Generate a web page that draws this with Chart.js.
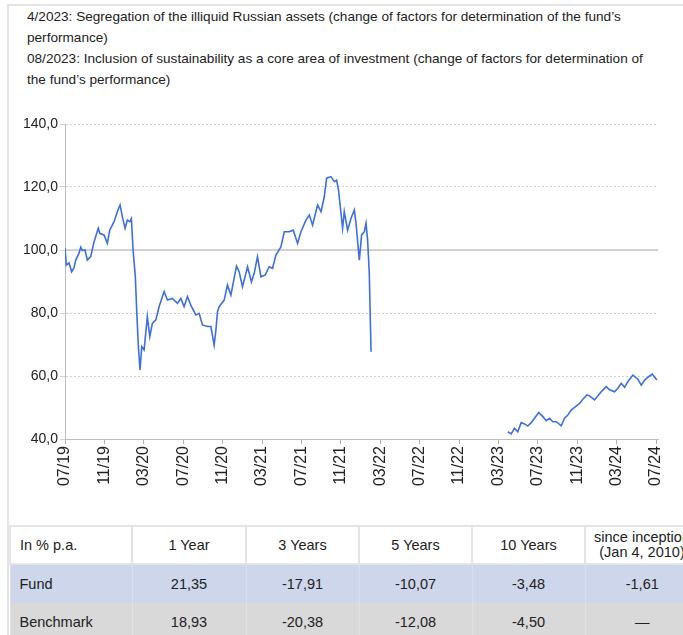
<!DOCTYPE html>
<html lang="en">
<head>
    <meta charset="UTF-8">
    <title>Fund Performance</title>
    <script src="https://cdn.jsdelivr.net/npm/chart.js"></script>
    <style>
        html, body {
            margin: 0;
            padding: 0;
            background: #fff;
            overflow: hidden;
            width: 683px;
            height: 635px;
            font-family: "Liberation Sans", Arial, sans-serif;
            color: #222;
        }
        .frame {
            position: absolute;
            left: 7px;
            top: 4px;
            width: 700px;
            height: 640px;
            border-left: 2px solid #e4e4e4;
            border-top: 2px solid #e4e4e4;
        }
        .notes {
            position: absolute;
            left: 27px;
            top: 6px;
            font-size: 13.6px;
            line-height: 21px;
            white-space: nowrap;
        }
        .chart-box {
            position: absolute;
            left: 9px;
            top: 100px;
            width: 674px;
            height: 420px;
        }
        table.perf {
            position: absolute;
            left: 9px;
            top: 525px;
            width: 689px;
            border-collapse: collapse;
            font-size: 14.5px;
            table-layout: fixed;
        }
        table.perf td {
            text-align: center;
            padding: 0;
            white-space: nowrap;
        }
        table.perf td:first-child {
            text-align: left;
            padding-left: 9px;
        }
        table.perf tr.head td {
            height: 36px;
            background: #fff;
            border: 2px solid #e4e4e4;
            line-height: 15px;
        }
        table.perf tr.fund td {
            height: 38px;
            background: #cdd6ea;
            border-left: 1px solid #d9def0;
        }
        table.perf tr.bench td {
            height: 38px;
            background: #d9d9d9;
            border-left: 1px solid #e2e2e2;
        }
    </style>
</head>
<body>
    <div class="frame"></div>
    <div class="notes">
        4/2023: Segregation of the illiquid Russian assets (change of factors for determination of the fund’s<br>
        performance)<br>
        08/2023: Inclusion of sustainability as a core area of investment (change of factors for determination of<br>
        the fund’s performance)
    </div>
    <div class="chart-box"><canvas id="perfChart"></canvas></div>
    <table class="perf" id="perfTable"></table>

<script>
    // months since 07/2019
    const segAMonths = [0, 0.13, 0.41, 0.68, 0.91, 1.09, 1.42, 1.60, 1.76, 2.03, 2.27, 2.61, 2.95, 3.38, 3.53, 3.96,
        4.30, 4.54, 4.98, 5.32, 5.59, 5.82, 6.10, 6.33, 6.58, 6.74, 6.91, 7.04, 7.14, 7.29, 7.45, 7.62, 7.79, 8.03,
        8.36, 8.61, 8.87, 9.22, 9.55, 10.06, 10.40, 10.90, 11.41, 11.76, 12.09, 12.43, 12.77, 13.28, 13.62, 13.95,
        14.46, 14.81, 15.14, 15.32, 15.48, 15.65, 16.16, 16.49, 16.84, 17.00, 17.41, 17.68, 18.02, 18.53, 18.93,
        19.21, 19.54, 19.89, 20.33, 20.73, 21.07, 21.41, 21.92, 22.26, 22.76, 23.17, 23.61, 23.95, 24.46, 24.80,
        25.13, 25.64, 25.99, 26.32, 26.56, 27.00, 27.34, 27.57, 27.77, 28.02, 28.18, 28.35, 28.69, 29.03, 29.37,
        29.54, 29.88, 30.11, 30.39, 30.56, 30.72, 30.89, 31.07];
    const segAValues = [100.6, 95.2, 95.9, 93.1, 94.3, 96.8, 99.0, 100.9, 99.8, 100.0, 96.8, 97.9, 102.6, 106.9, 105.3, 104.8,
        102.1, 106.3, 109.0, 112.2, 114.3, 110.6, 106.9, 109.5, 109.0, 110.0, 100.0, 95.2, 91.5, 79.9, 69.3, 61.9, 69.3, 68.3,
        78.8, 72.5, 76.7, 77.8, 82.0, 86.8, 84.1, 84.6, 83.1, 84.6, 82.0, 85.2, 82.5, 79.4, 79.9, 76.2,
        75.7, 75.7, 69.8, 74.6, 80.4, 82.0, 84.1, 88.9, 85.7, 88.3, 94.9, 93.1, 88.3, 94.7, 89.9,
        92.6, 97.9, 91.5, 92.1, 94.7, 94.2, 98.4, 101.0, 105.8, 105.8, 106.3, 102.1, 105.8, 109.5, 111.1,
        107.9, 114.3, 112.2, 116.9, 122.8, 123.3, 121.7, 122.2, 119.0, 111.6, 106.9, 112.2, 106.3, 110.0, 112.7,
        108.5, 96.8, 104.8, 105.8, 108.5, 103.2, 92.6, 67.7];

    const segBMonths = [44.95, 45.30, 45.63, 45.97, 46.31, 46.65, 46.98, 47.33, 47.66, 48.10, 48.51, 48.85, 49.19,
        49.52, 49.87, 50.38, 50.71, 51.05, 51.39, 51.83, 52.24, 52.57, 52.98, 53.25, 53.76, 54.10, 54.44, 54.95,
        55.28, 55.79, 56.13, 56.47, 56.81, 57.14, 57.65, 58.16, 58.50, 58.84, 59.35, 59.62, 59.86, 60.09];
    const segBValues = [42.3, 41.6, 43.4, 42.3, 45.2, 44.8, 44.1, 45.2, 46.6, 48.4, 47.1, 45.8, 46.6,
        45.5, 45.5, 44.2, 46.6, 47.6, 49.2, 50.3, 51.3, 52.6, 54.0, 53.7, 52.4, 53.7, 55.0, 56.6,
        55.6, 55.0, 56.1, 57.7, 56.4, 58.2, 60.3, 59.0, 57.1, 58.7, 60.0, 60.6, 59.6, 58.7];

    const tickMonths = [0, 4, 8, 12, 16, 20, 24, 28, 32, 36, 40, 44, 48, 52, 56, 60];
    const tickLabels = ['07/19', '11/19', '03/20', '07/20', '11/20', '03/21', '07/21', '11/21',
        '03/22', '07/22', '11/22', '03/23', '07/23', '11/23', '03/24', '07/24'];

    const periods = ['1 Year', '3 Years', '5 Years', '10 Years', 'since inception<br>(Jan 4, 2010)'];
    const fundReturns = ['21,35', '-17,91', '-10,07', '-3,48', '-1,61'];
    const benchReturns = ['18,93', '-20,38', '-12,08', '-4,50', '—'];

    // one dataset, gap between the two segments
    const points = segAMonths.map((m, i) => ({ x: m, y: segAValues[i] }))
        .concat([{ x: 38, y: null }])
        .concat(segBMonths.map((m, i) => ({ x: m, y: segBValues[i] })));

    // solid reference line at 100
    const baseLine = {
        id: 'baseLine',
        beforeDatasetsDraw(chart) {
            const y = chart.scales.y.getPixelForValue(100);
            const { left, right } = chart.chartArea;
            const ctx = chart.ctx;
            ctx.save();
            ctx.strokeStyle = '#c6c6c6';
            ctx.lineWidth = 1.5;
            ctx.beginPath();
            ctx.moveTo(left, y);
            ctx.lineTo(right, y);
            ctx.stroke();
            ctx.restore();
        }
    };

    new Chart(document.getElementById('perfChart'), {
        type: 'line',
        data: {
            datasets: [{
                data: points,
                borderColor: '#3d6fe0',
                borderWidth: 1.6,
                pointRadius: 0,
                tension: 0,
                spanGaps: false
            }]
        },
        options: {
            responsive: true,
            maintainAspectRatio: false,
            animation: false,
            layout: { padding: { top: 24, right: 25, left: 0, bottom: 0 } },
            plugins: { legend: { display: false }, tooltip: { enabled: false } },
            scales: {
                x: {
                    type: 'linear',
                    min: 0,
                    max: 60.2,
                    afterBuildTicks: scale => { scale.ticks = tickMonths.map(v => ({ value: v })); },
                    afterFit: scale => { scale.height = 81; },
                    grid: { drawOnChartArea: false, drawTicks: true, tickLength: 5, color: '#b0b0b0' },
                    border: { color: '#bdbdbd', width: 1 },
                    ticks: {
                        minRotation: 90,
                        maxRotation: 90,
                        autoSkip: false,
                        padding: 2,
                        color: '#222',
                        font: { family: 'Liberation Sans', size: 16 },
                        callback: v => tickLabels[tickMonths.indexOf(v)]
                    }
                },
                y: {
                    min: 40,
                    max: 140,
                    afterFit: scale => { scale.width = 56; },
                    grid: { color: '#d0d0d0', lineWidth: 1, tickLength: 5 },
                    border: { color: '#bdbdbd', width: 1, dash: [2, 2] },
                    ticks: {
                        stepSize: 20,
                        padding: 2,
                        color: '#222',
                        font: { family: 'Liberation Sans', size: 14 },
                        callback: v => v.toFixed(1).replace('.', ',')
                    }
                }
            }
        },
        plugins: [baseLine]
    });

    // performance table
    const table = document.getElementById('perfTable');
    const colWidths = [122, 114, 113, 113, 113, 114];
    let html = '<colgroup>' + colWidths.map(w => `<col style="width:${w}px">`).join('') + '</colgroup>';
    html += '<tr class="head"><td>In % p.a.</td>' + periods.map(p => `<td>${p}</td>`).join('') + '</tr>';
    html += '<tr class="fund"><td>Fund</td>' + fundReturns.map(v => `<td>${v}</td>`).join('') + '</tr>';
    html += '<tr class="bench"><td>Benchmark</td>' + benchReturns.map(v => `<td>${v}</td>`).join('') + '</tr>';
    table.innerHTML = html;
</script>
</body>
</html>
